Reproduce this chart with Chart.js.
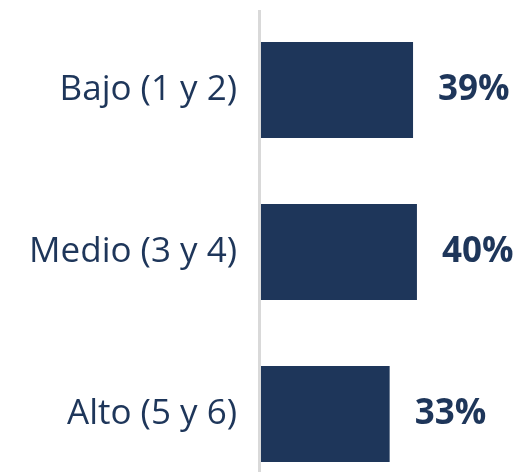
<!DOCTYPE html>
<html>
<head>
<meta charset="utf-8">
<script src="https://cdn.jsdelivr.net/npm/chart.js@4/dist/chart.umd.min.js"></script>
<style>
  html, body { margin: 0; padding: 0; background: #fff; overflow: hidden; }
  #wrap { width: 530px; height: 500px; position: relative; }
</style>
</head>
<body>
<div id="wrap"><canvas id="chart"></canvas></div>
<script>
// categories and values
const categorias = ['Bajo (1 y 2)', 'Medio (3 y 4)', 'Alto (5 y 6)'];
const porcentajes = [39, 40, 33];

const NAVY = '#1e365a';
const FONT = '"Open Sans", Lato, sans-serif';

// gray axis line to the left of the bars
const axisLine = {
  id: 'axisLine',
  beforeDatasetsDraw(chart) {
    const { ctx, chartArea } = chart;
    ctx.save();
    ctx.fillStyle = '#d9d9d9';
    ctx.fillRect(chartArea.left - 3, chartArea.top + 1, 3, chartArea.bottom - chartArea.top);
    ctx.restore();
  }
};

// bold value labels right of each bar
const valueLabels = {
  id: 'valueLabels',
  afterDatasetsDraw(chart) {
    const { ctx } = chart;
    const meta = chart.getDatasetMeta(0);
    ctx.save();
    ctx.fillStyle = NAVY;
    ctx.font = 'bold 35px ' + FONT;
    ctx.textAlign = 'left';
    ctx.textBaseline = 'middle';
    meta.data.forEach((bar, i) => {
      ctx.fillText(porcentajes[i] + '%', bar.x + 25, bar.y);
    });
    ctx.restore();
  }
};

new Chart(document.getElementById('chart'), {
  type: 'bar',
  data: {
    labels: categorias,
    datasets: [{
      data: porcentajes,
      backgroundColor: NAVY,
      borderWidth: 0,
      barPercentage: 0.593,
      categoryPercentage: 1.0
    }]
  },
  options: {
    indexAxis: 'y',
    responsive: true,
    maintainAspectRatio: false,
    animation: false,
    layout: { padding: { top: 9, bottom: 5, left: 0, right: 0 } },
    plugins: { legend: { display: false }, tooltip: { enabled: false } },
    scales: {
      x: { display: false, min: 0, max: 69 },
      y: {
        grid: { display: false, drawTicks: false },
        border: { display: false },
        ticks: {
          color: NAVY,
          padding: 24,
          font: { family: FONT, size: 35 }
        },
        afterFit(scale) {
          scale.width = 261;
          scale.paddingTop = 0;
          scale.paddingBottom = 0;
        }
      }
    }
  },
  plugins: [axisLine, valueLabels]
});
</script>
</body>
</html>
